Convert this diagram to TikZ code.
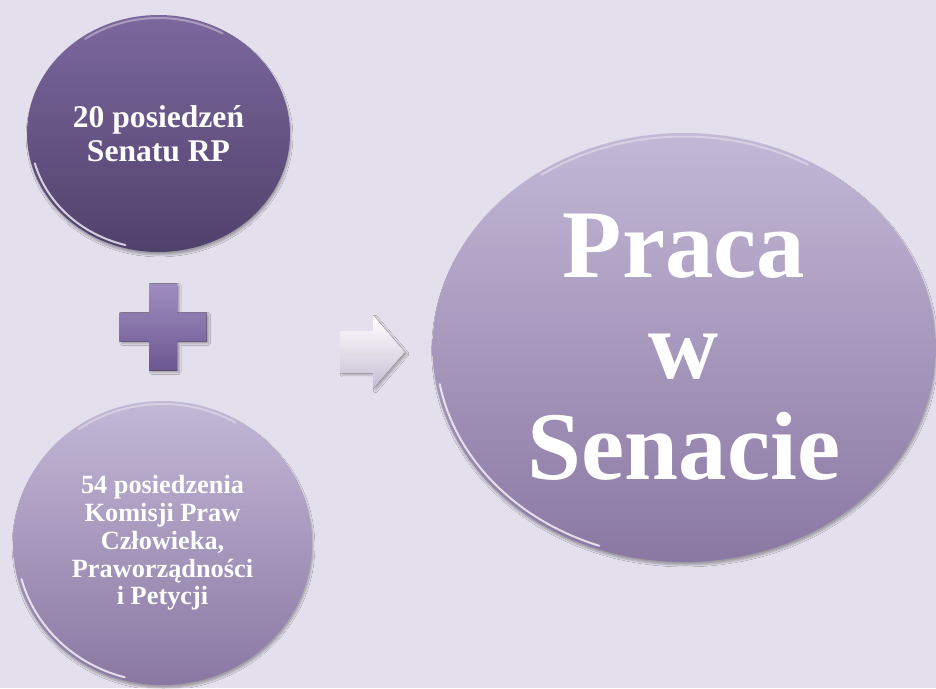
\documentclass[tikz,border=0pt]{standalone}
\usepackage{fontspec}
\setmainfont{Liberation Serif}
\usepackage{tikz}
\usetikzlibrary{shapes.geometric}
\usetikzlibrary{calc,shadows.blur}
\definecolor{tlo}{HTML}{E4DFEC}
\definecolor{ciemnyA}{HTML}{7D689E}
\definecolor{ciemnyB}{HTML}{4F416B}
\definecolor{jasnyA}{HTML}{C3B8D6}
\definecolor{jasnyB}{HTML}{8A78A3}
\definecolor{plusA}{HTML}{A08DC0}
\definecolor{plusB}{HTML}{6C5890}
\definecolor{strzalka}{HTML}{C5BED3}
\tikzset{
	kolo/.style={
			ellipse, inner sep=0pt, align=center, text=white,
			blur shadow={shadow xshift=1pt, shadow yshift=-3pt, shadow blur steps=6, shadow opacity=30}
		},
	blask/.style={draw=white, line width=2pt, opacity=0.75, line cap=round}
}

\begin{document}
\begin{tikzpicture}[x=1pt,y=-1pt]
		\fill[tlo] (0,0) rectangle (936,688);
		\useasboundingbox (0,0) rectangle (936,688);
		\node[kolo, minimum width=263, minimum height=237, top color=ciemnyA, bottom color=ciemnyB, font=\bfseries\fontsize{31.6}{34}\selectfont] (senat) at (158.5,133.5) {20 posiedzeń\\Senatu RP};
		\node[kolo, minimum width=299, minimum height=284, top color=jasnyA, bottom color=jasnyB, font=\bfseries\fontsize{26.3}{27.8}\selectfont] (komisja) at (162.5,543) {54 posiedzenia\\Komisji Praw\\Człowieka,\\Praworządności\\i Petycji};
		\node[kolo, minimum width=503, minimum height=429, top color=jasnyA, bottom color=jasnyB, font=\bfseries\fontsize{97}{101}\selectfont] (praca) at (684,347.5) {Praca\\w\\Senacie};
		\draw[blask] ([shift={(105:128 and 115.5)}]senat.center) arc[start angle=105, end angle=165, x radius=128, y radius=115.5];
		\draw[blask, opacity=0.35] ([shift={(235:128 and 115.5)}]senat.center) arc[start angle=235, end angle=300, x radius=128, y radius=115.5];
		\draw[blask] ([shift={(105:146 and 139)}]komisja.center) arc[start angle=105, end angle=165, x radius=146, y radius=139];
		\draw[blask, opacity=0.35] ([shift={(235:146 and 139)}]komisja.center) arc[start angle=235, end angle=300, x radius=146, y radius=139];
		\draw[blask] ([shift={(110:248 and 211)}]praca.center) arc[start angle=110, end angle=170, x radius=248, y radius=211];
		\draw[blask, opacity=0.35] ([shift={(235:248 and 211)}]praca.center) arc[start angle=235, end angle=300, x radius=248, y radius=211];
		\fill[top color=plusA, bottom color=plusB, blur shadow={shadow yshift=-2pt, shadow opacity=30}] (149,283.5) -- (177,283.5) -- (177,312.5) -- (206.5,312.5) -- (206.5,341.5) -- (177,341.5) -- (177,370.5) -- (149,370.5) -- (149,341.5) -- (119.5,341.5) -- (119.5,312.5) -- (149,312.5) -- cycle;
		\fill[top color=white, bottom color=strzalka, blur shadow={shadow yshift=-2pt, shadow opacity=25}] (340,331) -- (373,331) -- (373,315) -- (405,352) -- (373,389) -- (373,373) -- (340,373) -- cycle;
	\end{tikzpicture}
\end{document}
